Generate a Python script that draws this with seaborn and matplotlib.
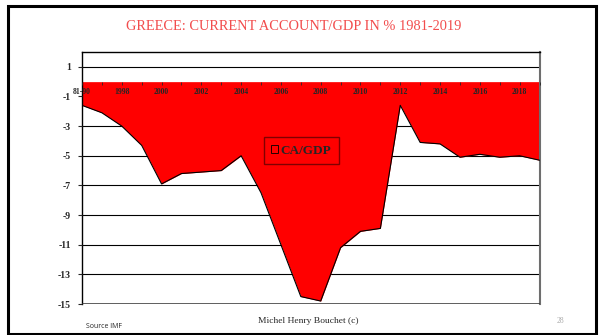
import matplotlib
matplotlib.use("Agg")
import matplotlib.pyplot as plt
from matplotlib.patches import Rectangle, Patch
import pandas as pd
import seaborn as sns

# données : solde courant / PIB (%) - Grèce
years = ["81-90", "1997", "1998", "1999", "2000", "2001", "2002", "2003",
         "2004", "2005", "2006", "2007", "2008", "2009", "2010", "2011",
         "2012", "2013", "2014", "2015", "2016", "2017", "2018", "2019"]
ca_gdp = [-1.6, -2.1, -3.0, -4.3, -6.9, -6.2, -6.1, -6.0,
          -5.0, -7.5, -11.0, -14.5, -14.8, -11.2, -10.1, -9.9,
          -1.6, -4.1, -4.2, -5.1, -4.9, -5.1, -5.0, -5.3]
y_ticks = list(range(-15, 2, 2))

df = pd.DataFrame({"year": years, "ca": ca_gdp})
df["pos"] = range(len(df))

sns.set_style("white")
plt.rcParams["font.family"] = ["Liberation Serif", "DejaVu Serif"]

fig = plt.figure(figsize=(6.03, 3.35), dpi=100)
ax = fig.add_axes([82 / 603, 1 - 304 / 335, 457.5 / 603, 252 / 335])
ax.set_axisbelow(False)  # tick labels au-dessus de la surface rouge

# axe des x sur la ligne 0 (avant de styler les ticks, set_position les remet à zéro)
ax.spines["bottom"].set_position(("data", 0))
ax.spines["bottom"].set_visible(False)

# gridlines sous la surface
for v in y_ticks:
    ax.axhline(v, color="black", lw=0.8, zorder=1)

ax.fill_between(df["pos"], 0, df["ca"], color="#ff0000", lw=0, zorder=2)
sns.lineplot(data=df, x="pos", y="ca", color="black", lw=0.8, ax=ax, zorder=3)
ax.axhline(-15, color="#333333", lw=1.8, zorder=4)

ax.set_xlim(0, len(df) - 1)
ax.set_ylim(-15, 2)
ax.set_yticks(y_ticks)
ax.set_yticklabels([str(v) for v in y_ticks], fontsize=7, fontweight="bold")
ax.tick_params(axis="y", direction="out", length=3, width=0.8, pad=5, left=True)

ax.set_xticks(df["pos"])
ax.set_xticklabels([y if i % 2 == 0 else "" for i, y in enumerate(years)],
                   fontsize=5.5, fontweight="bold")
ax.tick_params(axis="x", direction="out", length=2, width=0.6, pad=2.5, bottom=True)
ax.spines["left"].set_color("black")
ax.spines["top"].set_color("black")
ax.spines["right"].set_color("#6e6e6e")
ax.spines["right"].set_linewidth(1.5)
for s in ["left", "top"]:
    ax.spines[s].set_linewidth(1)
ax.set_xlabel("")
ax.set_ylabel("")

handle = Patch(facecolor="#ff0000", edgecolor="black", lw=0.6)
leg = ax.legend([handle], ["CA/GDP"], loc="center",
                bbox_to_anchor=(0.479, 0.609), fancybox=False,
                prop={"weight": "bold", "size": 9.5}, handlelength=0.55,
                handleheight=0.55, handletextpad=0.2, borderpad=0.55,
                borderaxespad=0)
leg.get_frame().set_edgecolor("#600000")
leg.get_frame().set_facecolor("none")
leg.get_frame().set_linewidth(1)

fig.text(294 / 603, 1 - 27 / 335, "GREECE: CURRENT ACCOUNT/GDP IN % 1981-2019",
         ha="center", va="center", color="#f24d4d", fontsize=10.4)
fig.text(308 / 603, 1 - 321 / 335, "Michel Henry Bouchet (c)",
         ha="center", va="center", fontsize=6.8)
fig.text(86 / 603, 1 - 327 / 335, "Source IMF", ha="left", va="center",
         fontsize=5, family=["Open Sans", "DejaVu Sans"])
fig.text(560 / 603, 1 - 321 / 335, "28", ha="center", va="center",
         fontsize=5.5, color="#aaaaaa")

# cadre de la diapo
fig.patches.append(Rectangle((7.5 / 603, 1 - 333.5 / 335), 588.5 / 603, 327.5 / 335,
                             transform=fig.transFigure, fill=False,
                             edgecolor="black", lw=2.2))

fig.savefig("out.png", dpi=100)
